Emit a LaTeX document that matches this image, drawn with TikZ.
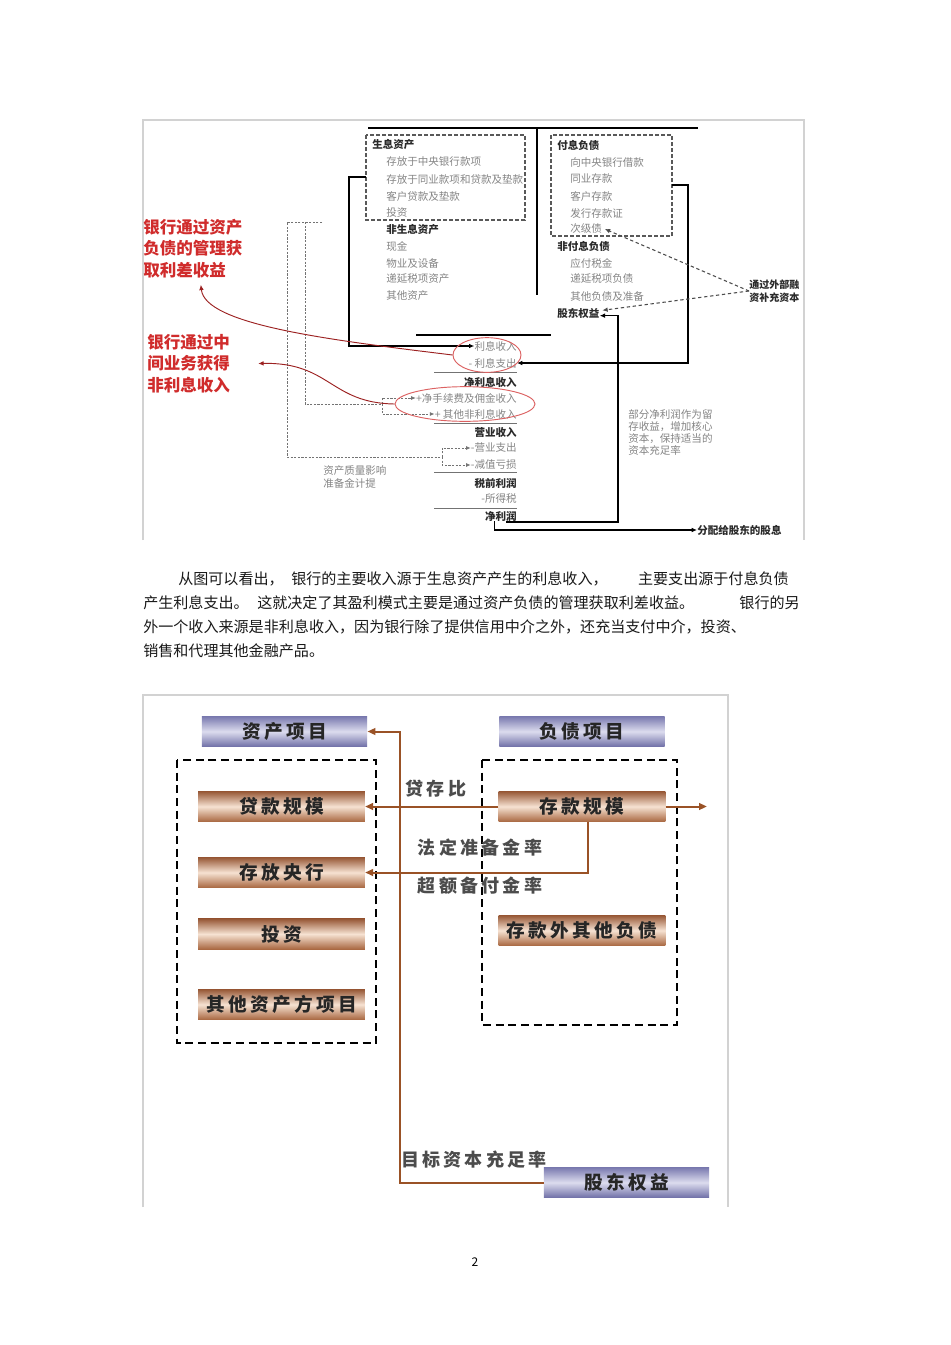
\documentclass[tikz,border=0pt]{standalone}
\usepackage{fontspec}
\setmainfont{Noto Sans CJK SC}
\newfontfamily\spacedcjk[LetterSpace=18]{Noto Sans CJK SC}
\usepackage{tikz}
\usetikzlibrary{arrows.meta,positioning,calc,shapes.geometric}
\usepackage{xcolor}
\definecolor{Ink}{HTML}{2A2A2A}
\definecolor{Mute}{HTML}{858585}
\definecolor{Note}{HTML}{D02C2C}
\definecolor{Rust}{HTML}{9A5226}
\definecolor{Frame}{HTML}{D2D2D2}
\definecolor{RustTop}{HTML}{965634}
\definecolor{RustMid}{HTML}{F6E2D2}
\definecolor{RustBot}{HTML}{A8663F}
\definecolor{SlateTop}{HTML}{7878AE}
\definecolor{SlateMid}{HTML}{DCDCEE}
\definecolor{SlateBot}{HTML}{6E6EA6}
\newcommand{\BarBox}[5]{%
  \node[#1] (#2) at (#3,#4) {#5};%
}

\begin{document}
\begin{tikzpicture}[x=0.75pt,y=-0.75pt,
  bshead/.style={anchor=west,inner sep=0pt,font=\bfseries\fontsize{7.9}{9}\selectfont,text=Ink},
  bsitem/.style={anchor=west,inner sep=0pt,font=\fontsize{7.9}{9}\selectfont,text=Mute},
  ishead/.style={bshead,anchor=east},
  isitem/.style={bsitem,anchor=east},
  bsbox/.style={draw=black!65,line width=0.8pt,dash pattern=on 3pt off 1.5pt},
  bsarrow/.style={draw=black,line width=1.1pt,-{Latex[length=4pt,width=3.5pt]}},
  extarrow/.style={draw=black!70,line width=0.8pt,dash pattern=on 2.5pt off 2pt,-{Latex[length=4pt,width=3.5pt]}},
  provline/.style={draw=black!55,line width=0.6pt,dash pattern=on 1.6pt off 1.1pt},
  provarrow/.style={provline,-{Latex[length=3.5pt,width=3pt]}},
  redoval/.style={ellipse,draw=Note!75,line width=0.7pt,inner sep=0pt},
  redarrow/.style={draw=Note!75!black,line width=0.7pt,-{Latex[length=4pt,width=3.5pt]}},
  rednote/.style={anchor=north west,align=left,inner sep=0pt,font=\bfseries\fontsize{12.4}{16}\selectfont,text=Note},
  mutenote/.style={anchor=north west,align=left,inner sep=0pt,font=\fontsize{7.9}{9.2}\selectfont,text=Mute},
  para/.style={anchor=west,inner sep=0pt,font=\fontsize{11.3}{13}\selectfont,text=black!90},
  slatebar/.style={minimum width=124pt,minimum height=23pt,inner sep=0pt,top color=SlateTop,bottom color=SlateBot,middle color=SlateMid,font=\spacedcjk\bfseries\fontsize{14}{16}\selectfont,text=black!85},
  rustbar/.style={minimum width=125pt,minimum height=23pt,inner sep=0pt,top color=RustTop,bottom color=RustBot,middle color=RustMid,font=\spacedcjk\bfseries\fontsize{14}{16}\selectfont,text=black!85},
  rustlabel/.style={inner sep=0pt,font=\spacedcjk\bfseries\fontsize{13.5}{15}\selectfont,text=black!70},
  rustarrow/.style={draw=Rust,line width=1.5pt,-{Triangle[length=6pt,width=5pt]}},
  blkdash/.style={draw=black,line width=1.5pt,dash pattern=on 6pt off 3.5pt}]
\fill[white] (0,0) rectangle (950,1345);
\useasboundingbox (0,0) rectangle (950,1345);

\draw[Frame,line width=0.8pt] (143,540) -- (143,120) -- (804,120) -- (804,540);
\draw[line width=1.5pt] (368,128) -- (698,128);
\draw[line width=1.5pt] (537,128) -- (537,295);
\draw[line width=1.5pt] (416,335) -- (551,335);
\draw[bsbox] (366,135) rectangle (525,220);
\draw[bsbox] (551,135) rectangle (672,236);

\node[bshead] (ibAsset) at (372,145) {生息资产};
\foreach \n/\y/\t in {aCb/162/存放于中央银行款项,aBank/179/存放于同业款项和贷款及垫款,aLoan/196/客户贷款及垫款,aInv/213/投资} {
  \node[bsitem] (\n) at (386,\y) {\t};
}
\node[bshead] (nonAsset) at (386,230) {非生息资产};
\foreach \n/\y/\t in {aCash/246/现金,aProp/263/物业及设备,aDefer/279/递延税项资产,aOther/296/其他资产} {
  \node[bsitem] (\n) at (386,\y) {\t};
}
\node[bshead] (ibLiab) at (557,145) {付息负债};
\foreach \n/\y/\t in {lCb/163/向中央银行借款,lBank/179/同业存款,lCust/196/客户存款,lCd/213/发行存款证,lSub/229/次级债} {
  \node[bsitem] (\n) at (570,\y) {\t};
}
\node[bshead] (nonLiab) at (557,246) {非付息负债};
\foreach \n/\y/\t in {lTax/263/应付税金,lDefer/279/递延税项负债,lOther/296/其他负债及准备} {
  \node[bsitem] (\n) at (570,\y) {\t};
}
\node[bshead] (equity) at (557,313) {股东权益};

\foreach \n/\y/\t in {isIntInc/346/利息收入,isIntExp/363/- 利息支出,isFee/398/+净手续费及佣金收入,isOther/414/+ 其他非利息收入,isOpExp/448/-营业支出,isImpair/465/-减值亏损,isTax/499/-所得税} {
  \node[isitem] (\n) at (517,\y) {\t};
}
\foreach \n/\y/\t in {isNetInt/382/净利息收入,isOpInc/433/营业收入,isPretax/483/税前利润,isNet/516/净利润} {
  \node[ishead] (\n) at (517,\y) {\t};
}
\foreach \y in {372,423,472,508} {
  \draw[black!55,line width=0.6pt] (434,\y) -- (517,\y);
}

\coordinate (assetTap) at (366,177);
\coordinate (liabTap) at (672,185);
\draw[bsarrow] (assetTap) -- (349,177) |- (isIntInc.west);
\draw[bsarrow] (liabTap) -- (688,185) |- (isIntExp.east);
\node[bshead] (dividend) at (697,530) {分配给股东的股息};
\draw[bsarrow] ([xshift=4pt]isNet.south) |- (618,522) |- ([yshift=-2pt]equity.east);
\draw[bsarrow] ([xshift=-5pt]isNet.south) |- (dividend.west);

\node[bshead,align=left,font=\bfseries\fontsize{7.5}{9.6}\selectfont] (extFin) at (749,291) {通过外部融\\资补充资本};
\draw[extarrow] (extFin.west) -- ([xshift=2pt]lSub.east);
\draw[extarrow] (extFin.west) -- ([xshift=2pt,yshift=2pt]equity.east);

\draw[provline] (322,222) -- (287,222) -- (287,457) -- (442,457);
\draw[provline] (305,222) -- (305,404) -- (382,404);
\coordinate (feeFork) at (382,404);
\coordinate (opFork) at (442,457);
\draw[provarrow] (feeFork) |- (isFee.west);
\draw[provarrow] (feeFork) |- (isOther.west);
\draw[provarrow] (opFork) |- (isOpExp.west);
\draw[provarrow] (opFork) |- (isImpair.west);
\node[mutenote,font=\fontsize{7.9}{9.8}\selectfont] (provNote) at (323,465) {资产质量影响\\准备金计提};
\node[mutenote] (retainNote) at (628,409) {部分净利润作为留\\存收益，增加核心\\资本，保持适当的\\资本充足率};

\node[redoval,minimum width=51pt,minimum height=26pt] (ovalInt) at (487,355) {};
\node[redoval,minimum width=105pt,minimum height=26pt] (ovalFee) at (465,404) {};
\node[rednote] (noteSpread) at (143,219) {银行通过资产\\负债的管理获\\取利差收益};
\node[rednote] (noteFee) at (147,334) {银行通过中\\间业务获得\\非利息收入};
\draw[redarrow] (ovalInt.west) .. controls (330,340) and (205,325) .. ([xshift=6pt,yshift=-5pt]noteSpread.south);
\draw[redarrow] (ovalFee.west) .. controls (330,403) and (330,362) .. ([xshift=21pt]noteFee.east);

\node[para] (p1a) at (178,579) {从图可以看出，};
\node[para] (p1b) at (291,579) {银行的主要收入源于生息资产产生的利息收入，};
\node[para,anchor=east] (p1c) at (789,579) {主要支出源于付息负债};
\node[para] (p2a) at (143,603) {产生利息支出。};
\node[para] (p2b) at (257,603) {这就决定了其盈利模式主要是通过资产负债的管理获取利差收益。};
\node[para,anchor=east] (p2c) at (800,603) {银行的另};
\node[para] (p3) at (143,627) {外一个收入来源是非利息收入，因为银行除了提供信用中介之外，还充当支付中介，投资、};
\node[para] (p4) at (143,651) {销售和代理其他金融产品。};

\draw[Frame,line width=0.8pt] (143,1207) -- (143,695) -- (728,695) -- (728,1207);
\draw[blkdash] (177,760) rectangle (376,1043);
\draw[blkdash] (482,760) rectangle (677,1025);
\BarBox{slatebar}{assetHead}{284.5}{731.5}{资产项目}
\BarBox{slatebar}{liabHead}{582}{731.5}{负债项目}
\BarBox{rustbar}{loanScale}{281.5}{806.5}{贷款规模}
\BarBox{rustbar}{cbDeposit}{281.5}{872.5}{存放央行}
\BarBox{rustbar}{invest}{281.5}{934}{投资}
\BarBox{rustbar}{otherAsset}{281.5}{1004.5}{其他资产方项目}
\BarBox{rustbar}{depScale}{582}{806.5}{存款规模}
\BarBox{rustbar}{otherLiab}{582}{930.5}{存款外其他负债}
\BarBox{slatebar}{equityBar}{626.5}{1182.5}{股东权益}

\node[rustlabel] (ldRatio) at (436,789) {贷存比};
\node[rustlabel] (reqRes) at (480,848) {法定准备金率};
\node[rustlabel] (excRes) at (480,886) {超额备付金率};
\node[rustlabel] (capTarget) at (474,1160) {目标资本充足率};

\coordinate (depOut) at (707,806.5);
\coordinate (capTurn) at (400,1182.5);
\draw[rustarrow] (depScale.west) -- (loanScale.east);
\draw[rustarrow] ([xshift=4.5pt]depScale.south) |- (cbDeposit.east);
\draw[rustarrow] (depScale.east) -- (depOut);
\draw[rustarrow] (equityBar.west) -- (capTurn) |- (assetHead.east);

\node[font=\fontsize{9}{10}\selectfont] (pageNo) at (475,1262) {2};
\end{tikzpicture}
\end{document}
